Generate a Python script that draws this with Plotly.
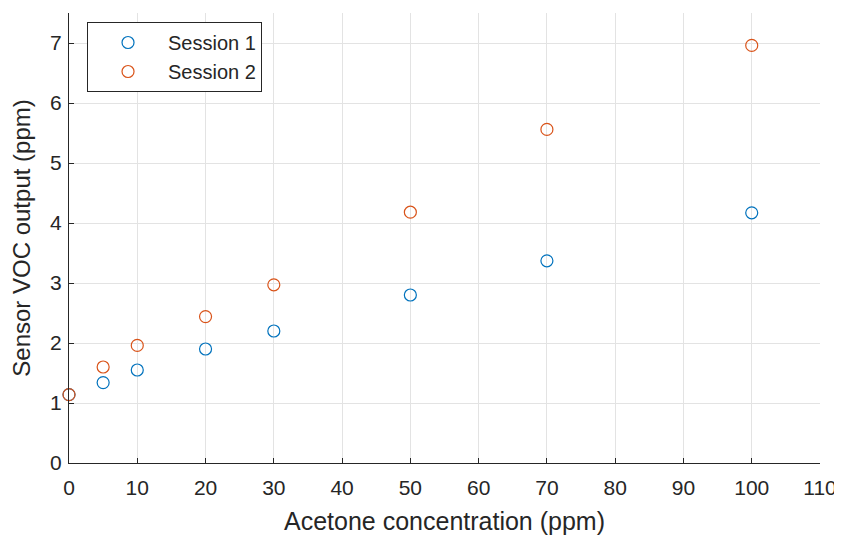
import plotly.graph_objects as go

concentration = [0, 5, 10, 20, 30, 50, 70, 100]
session1 = [1.14, 1.34, 1.55, 1.90, 2.20, 2.80, 3.37, 4.17]
session2 = [1.14, 1.60, 1.96, 2.44, 2.97, 4.18, 5.56, 6.96]

x_ticks = list(range(0, 111, 10))
y_ticks = list(range(0, 8))

FONT = "Liberation Sans, Arial, Helvetica, sans-serif"
DARK = "#262626"
GRID = "#e3e3e3"

fig = go.Figure()
fig.add_trace(go.Scatter(
    x=concentration, y=session1, mode="markers", name="Session 1",
    marker=dict(symbol="circle-open", size=12, color="#0072BD", line=dict(width=1.2)),
    cliponaxis=False,
))
fig.add_trace(go.Scatter(
    x=concentration, y=session2, mode="markers", name="Session 2",
    marker=dict(symbol="circle-open", size=12, color="#D95319", line=dict(width=1.2)),
    cliponaxis=False,
))

axis_common = dict(
    showline=True, linecolor=DARK, linewidth=1, mirror=False,
    ticks="inside", ticklen=5, tickcolor=DARK, tickwidth=1,
    showgrid=True, gridcolor=GRID, gridwidth=1, zeroline=False,
    tickfont=dict(family=FONT, size=21, color=DARK),
    automargin=False,
)

# page body has an 8px margin, so the figure is sized to fit the window
fig.update_layout(
    width=834, height=533,
    margin=dict(l=61, r=22, t=5, b=78),
    paper_bgcolor="white", plot_bgcolor="white",
    font=dict(family=FONT, color=DARK),
    xaxis=dict(
        range=[0, 110], tickvals=x_ticks, ticktext=[str(v) for v in x_ticks],
        ticklabelstandoff=6,
        title=dict(text="Acetone concentration (ppm)", font=dict(family=FONT, size=25, color=DARK), standoff=14),
        **axis_common,
    ),
    yaxis=dict(
        range=[0, 7.5], tickvals=y_ticks, ticktext=[str(v) for v in y_ticks],
        ticklabelstandoff=2,
        title=dict(text="Sensor VOC output (ppm)", font=dict(family=FONT, size=24, color=DARK), standoff=12),
        **axis_common,
    ),
    legend=dict(
        x=0.024, y=0.98, xanchor="left", yanchor="top",
        bgcolor="white", bordercolor=DARK, borderwidth=1,
        font=dict(family=FONT, size=20, color=DARK),
        itemwidth=70,
        tracegroupgap=0,
    ),
    showlegend=True,
)

fig.write_html("out.html")
